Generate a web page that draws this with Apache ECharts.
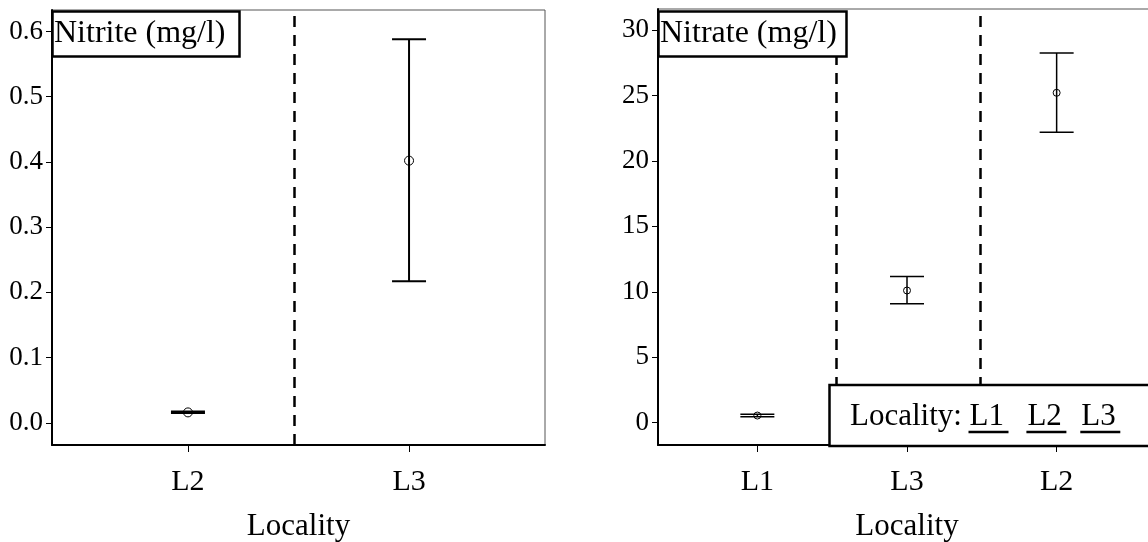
<!DOCTYPE html>
<html>
<head>
<meta charset="utf-8">
<script src="https://cdn.jsdelivr.net/npm/echarts@6/dist/echarts.min.js"></script>
<style>
  html, body { margin: 0; padding: 0; background: #fff; }
  #main { width: 1148px; height: 542px; }
</style>
</head>
<body>
<div id="main"></div>
<script>
// Nitrite panel (left)
var nitriteCats = ['L2', 'L3'];
var nitriteLow = [0.015, 0.217];
var nitriteMean = [0.016, 0.402];
var nitriteHigh = [0.0175, 0.588];
var nitriteTicks = [0, 0.1, 0.2, 0.3, 0.4, 0.5, 0.6];
var nitriteSeps = [1.48];

// Nitrate panel (right)
var nitrateCats = ['L1', 'L3', 'L2'];
var nitrateLow = [0.45, 9.08, 22.18];
var nitrateMean = [0.55, 10.1, 25.2];
var nitrateHigh = [0.65, 11.17, 28.24];
var nitrateTicks = [0, 5, 10, 15, 20, 25, 30];
var nitrateSeps = [1.53, 2.49];

var legendItems = ['L1', 'L2', 'L3'];

var serif = 'Liberation Serif';

// x position of category i is i + 1
function toRows(low, mean, high) {
  return mean.map(function (m, i) { return [i + 1, low[i], m, high[i]]; });
}

function errorBar(capHalf, r, lw) {
  return function (params, api) {
    var x = api.value(0);
    var pLo = api.coord([x, api.value(1)]);
    var pMid = api.coord([x, api.value(2)]);
    var pHi = api.coord([x, api.value(3)]);
    var st = { stroke: '#000', lineWidth: lw, fill: null };
    return {
      type: 'group',
      children: [
        { type: 'line', shape: { x1: pLo[0], y1: pLo[1], x2: pHi[0], y2: pHi[1] }, style: st },
        { type: 'line', shape: { x1: pLo[0] - capHalf, y1: pLo[1], x2: pLo[0] + capHalf, y2: pLo[1] }, style: st },
        { type: 'line', shape: { x1: pHi[0] - capHalf, y1: pHi[1], x2: pHi[0] + capHalf, y2: pHi[1] }, style: st },
        { type: 'circle', shape: { cx: pMid[0], cy: pMid[1], r: r }, style: { stroke: '#000', lineWidth: 1, fill: null } }
      ]
    };
  };
}

function xAxisFor(idx, cats, min, max) {
  return {
    type: 'value',
    gridIndex: idx,
    min: min,
    max: max,
    name: 'Locality',
    nameLocation: 'middle',
    nameGap: 66,
    nameTextStyle: { fontFamily: serif, fontSize: 31, color: '#000' },
    splitLine: { show: false },
    axisLine: { onZero: false, lineStyle: { color: '#000', width: 2 } },
    axisTick: { length: 7, lineStyle: { color: '#000', width: 1 }, customValues: cats.map(function (c, i) { return i + 1; }) },
    axisLabel: {
      fontFamily: serif, fontSize: 30, color: '#000', margin: 22,
      customValues: cats.map(function (c, i) { return i + 1; }),
      formatter: function (v) { return cats[Math.round(v) - 1]; }
    }
  };
}

function yAxisFor(idx, ticks, min, max, fmt) {
  return {
    type: 'value',
    gridIndex: idx,
    min: min,
    max: max,
    splitLine: { show: false },
    axisLine: { show: true, onZero: false, lineStyle: { color: '#000', width: 2 } },
    axisTick: { show: true, length: 6, lineStyle: { color: '#000', width: 1 }, customValues: ticks },
    axisLabel: { fontFamily: serif, fontSize: 27, color: '#000', margin: 9, customValues: ticks, formatter: fmt }
  };
}

function separators(idx, seps) {
  return {
    type: 'line',
    xAxisIndex: idx,
    yAxisIndex: idx,
    data: [],
    markLine: {
      silent: true,
      symbol: 'none',
      label: { show: false },
      lineStyle: { color: '#000', width: 2.5, type: [11, 8] },
      data: seps.map(function (s) { return { xAxis: s }; })
    }
  };
}

var chart = echarts.init(document.getElementById('main'));

var legendGraphic = [
  {
    type: 'rect', z: 100,
    shape: { x: 829.5, y: 385, width: 340, height: 61 },
    style: { fill: '#fff', stroke: '#000', lineWidth: 2.5 }
  },
  {
    type: 'text', z: 101, x: 850, y: 417,
    style: { text: 'Locality:', font: '31px "Liberation Serif"', fill: '#000', verticalAlign: 'middle' }
  }
];
var legendX = [968.5, 1026.4, 1080.3];
legendItems.forEach(function (name, i) {
  legendGraphic.push({
    type: 'text', z: 101, x: legendX[i] + 1, y: 417,
    style: { text: name, font: '31px "Liberation Serif"', fill: '#000', verticalAlign: 'middle' }
  });
  legendGraphic.push({
    type: 'line', z: 101,
    shape: { x1: legendX[i], y1: 432, x2: legendX[i] + 40, y2: 432 },
    style: { stroke: '#000', lineWidth: 2.5 }
  });
});

var option = {
  backgroundColor: '#fff',
  animation: false,
  title: [
    {
      text: 'Nitrite (mg/l)', left: 52, top: 11,
      padding: [7, 14, 7, 2],
      borderColor: '#000', borderWidth: 2.5, backgroundColor: '#fff',
      textStyle: { fontFamily: serif, fontSize: 32, fontWeight: 'normal', color: '#000' }
    },
    {
      text: 'Nitrate (mg/l)', left: 658, top: 11,
      padding: [7, 10, 7, 2],
      borderColor: '#000', borderWidth: 2.5, backgroundColor: '#fff',
      textStyle: { fontFamily: serif, fontSize: 32, fontWeight: 'normal', color: '#000' }
    }
  ],
  grid: [
    { left: 52, top: 10, width: 493, height: 435, show: true, borderColor: '#555', borderWidth: 1, outerBoundsMode: 'none' },
    { left: 658, top: 9, width: 498, height: 436, show: true, borderColor: '#555', borderWidth: 1, outerBoundsMode: 'none' }
  ],
  xAxis: [
    xAxisFor(0, nitriteCats, 0.385, 2.615),
    xAxisFor(1, nitrateCats, 0.336, 3.664)
  ],
  yAxis: [
    yAxisFor(0, nitriteTicks, -0.034, 0.633, function (v) { return v.toFixed(1); }),
    yAxisFor(1, nitrateTicks, -1.70, 31.6, function (v) { return String(v); })
  ],
  graphic: legendGraphic,
  series: [
    separators(0, nitriteSeps),
    separators(1, nitrateSeps),
    {
      type: 'custom',
      xAxisIndex: 0, yAxisIndex: 0,
      renderItem: errorBar(17, 4.5, 2),
      data: toRows(nitriteLow, nitriteMean, nitriteHigh),
      z: 3
    },
    {
      type: 'custom',
      xAxisIndex: 1, yAxisIndex: 1,
      renderItem: errorBar(17, 3.5, 1.5),
      data: toRows(nitrateLow, nitrateMean, nitrateHigh),
      z: 3
    }
  ]
};

chart.setOption(option);
</script>
</body>
</html>
